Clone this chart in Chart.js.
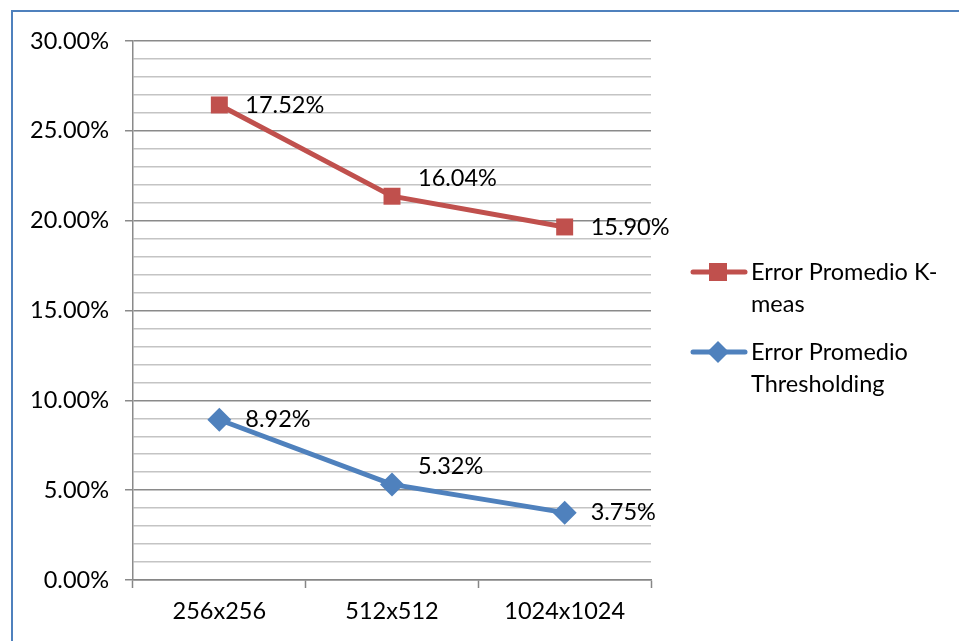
<!DOCTYPE html>
<html>
<head>
<meta charset="utf-8">
<script src="https://cdn.jsdelivr.net/npm/chart.js@4/dist/chart.umd.min.js"></script>
<style>
  body { margin: 0; background: #fff; overflow: hidden; }
  #frame { position: absolute; left: 11px; top: 10px; width: 1000px; height: 700px; border: 2px solid #4f81bd; }
  #wrap { position: absolute; left: 0; top: 0; width: 959px; height: 641px; }
</style>
</head>
<body>
<div id="frame"></div>
<div id="wrap"><canvas id="errorChart"></canvas></div>
<script>
const categories = ["256x256", "512x512", "1024x1024"];
const kmeansError = [17.52, 16.04, 15.90];
const thresholdError = [8.92, 5.32, 3.75];
const legendNames = [["Error Promedio K-", "meas"], ["Error Promedio", "Thresholding"]];

const RED = "#c0504d";
const BLUE = "#4f81bd";
const FONT = "Lato, 'Open Sans', sans-serif";
const FSIZE = 23.5;

// labels to the right of each point, like the Excel data labels
const pointLabels = {
  id: "pointLabels",
  afterDatasetsDraw(chart) {
    const ctx = chart.ctx;
    ctx.save();
    ctx.font = FSIZE + "px " + FONT;
    ctx.fillStyle = "#000";
    ctx.textAlign = "left";
    ctx.textBaseline = "middle";
    chart.data.datasets.forEach((ds, i) => {
      const meta = chart.getDatasetMeta(i);
      meta.data.forEach((pt, j) => {
        const dy = j === 1 ? -18 : 0;
        ctx.fillText(ds.data[j].toFixed(2) + "%", pt.x + 26, pt.y + dy);
      });
    });
    ctx.restore();
  },
};

// legend on the right with wrapped names
const sideLegend = {
  id: "sideLegend",
  afterDraw(chart) {
    const ctx = chart.ctx;
    const items = [
      { color: RED, shape: "square", lines: legendNames[0], y: 272 },
      { color: BLUE, shape: "diamond", lines: legendNames[1], y: 352 },
    ];
    ctx.save();
    items.forEach((it) => {
      ctx.strokeStyle = it.color;
      ctx.lineWidth = 5;
      ctx.lineCap = "round";
      ctx.beginPath();
      ctx.moveTo(693, it.y);
      ctx.lineTo(745, it.y);
      ctx.stroke();
      ctx.fillStyle = it.color;
      if (it.shape === "square") {
        ctx.fillRect(709, it.y - 9, 18, 18);
      } else {
        ctx.beginPath();
        ctx.moveTo(718, it.y - 11);
        ctx.lineTo(729, it.y);
        ctx.lineTo(718, it.y + 11);
        ctx.lineTo(707, it.y);
        ctx.closePath();
        ctx.fill();
      }
      ctx.fillStyle = "#000";
      ctx.font = FSIZE + "px " + FONT;
      ctx.textAlign = "left";
      ctx.textBaseline = "middle";
      it.lines.forEach((t, k) => ctx.fillText(t, 751, it.y + k * 32));
    });
    ctx.restore();
  },
};

new Chart(document.getElementById("errorChart"), {
  type: "line",
  data: {
    labels: categories,
    datasets: [
      {
        label: "Error Promedio Thresholding",
        data: thresholdError,
        borderColor: BLUE,
        backgroundColor: BLUE,
        borderWidth: 5,
        pointStyle: "rectRot",
        pointRadius: 12,
        pointBorderWidth: 0,
        fill: false,
        tension: 0,
      },
      {
        label: "Error Promedio K-meas",
        data: kmeansError,
        borderColor: RED,
        backgroundColor: RED,
        borderWidth: 5,
        pointStyle: "rect",
        pointRadius: 12,
        pointBorderWidth: 0,
        fill: false,
        tension: 0,
      },
    ],
  },
  options: {
    responsive: true,
    maintainAspectRatio: false,
    animation: false,
    layout: { padding: { left: 0, top: 41, right: 308, bottom: 0 } },
    plugins: { legend: { display: false }, tooltip: { enabled: false } },
    scales: {
      x: {
        offset: true,
        afterFit: (s) => { s.height = 61; },
        grid: {
          offset: true,
          drawOnChartArea: false,
          drawTicks: true,
          tickLength: 8,
          tickColor: "#868686",
          tickWidth: 1.5,
        },
        border: { color: "#868686", width: 1.5 },
        ticks: { color: "#000", font: { family: FONT, size: FSIZE }, padding: 9 },
      },
      y: {
        stacked: true,
        min: 0,
        max: 30,
        afterFit: (s) => { s.width = 133; },
        ticks: {
          stepSize: 1,
          autoSkip: false,
          color: "#000",
          font: { family: FONT, size: FSIZE },
          padding: 16,
          callback: (v) => (v % 5 === 0 ? v.toFixed(2) + "%" : ""),
        },
        grid: {
          color: (c) => (c.tick && c.tick.value % 5 === 0 ? "#8a8a8a" : "#c4c4c4"),
          lineWidth: 1.5,
          tickLength: 8,
          tickColor: (c) => (c.tick && c.tick.value % 5 === 0 ? "#8a8a8a" : "rgba(0,0,0,0)"),
        },
        border: { color: "#8a8a8a", width: 1.5 },
      },
    },
  },
  plugins: [pointLabels, sideLegend],
});
</script>
</body>
</html>
